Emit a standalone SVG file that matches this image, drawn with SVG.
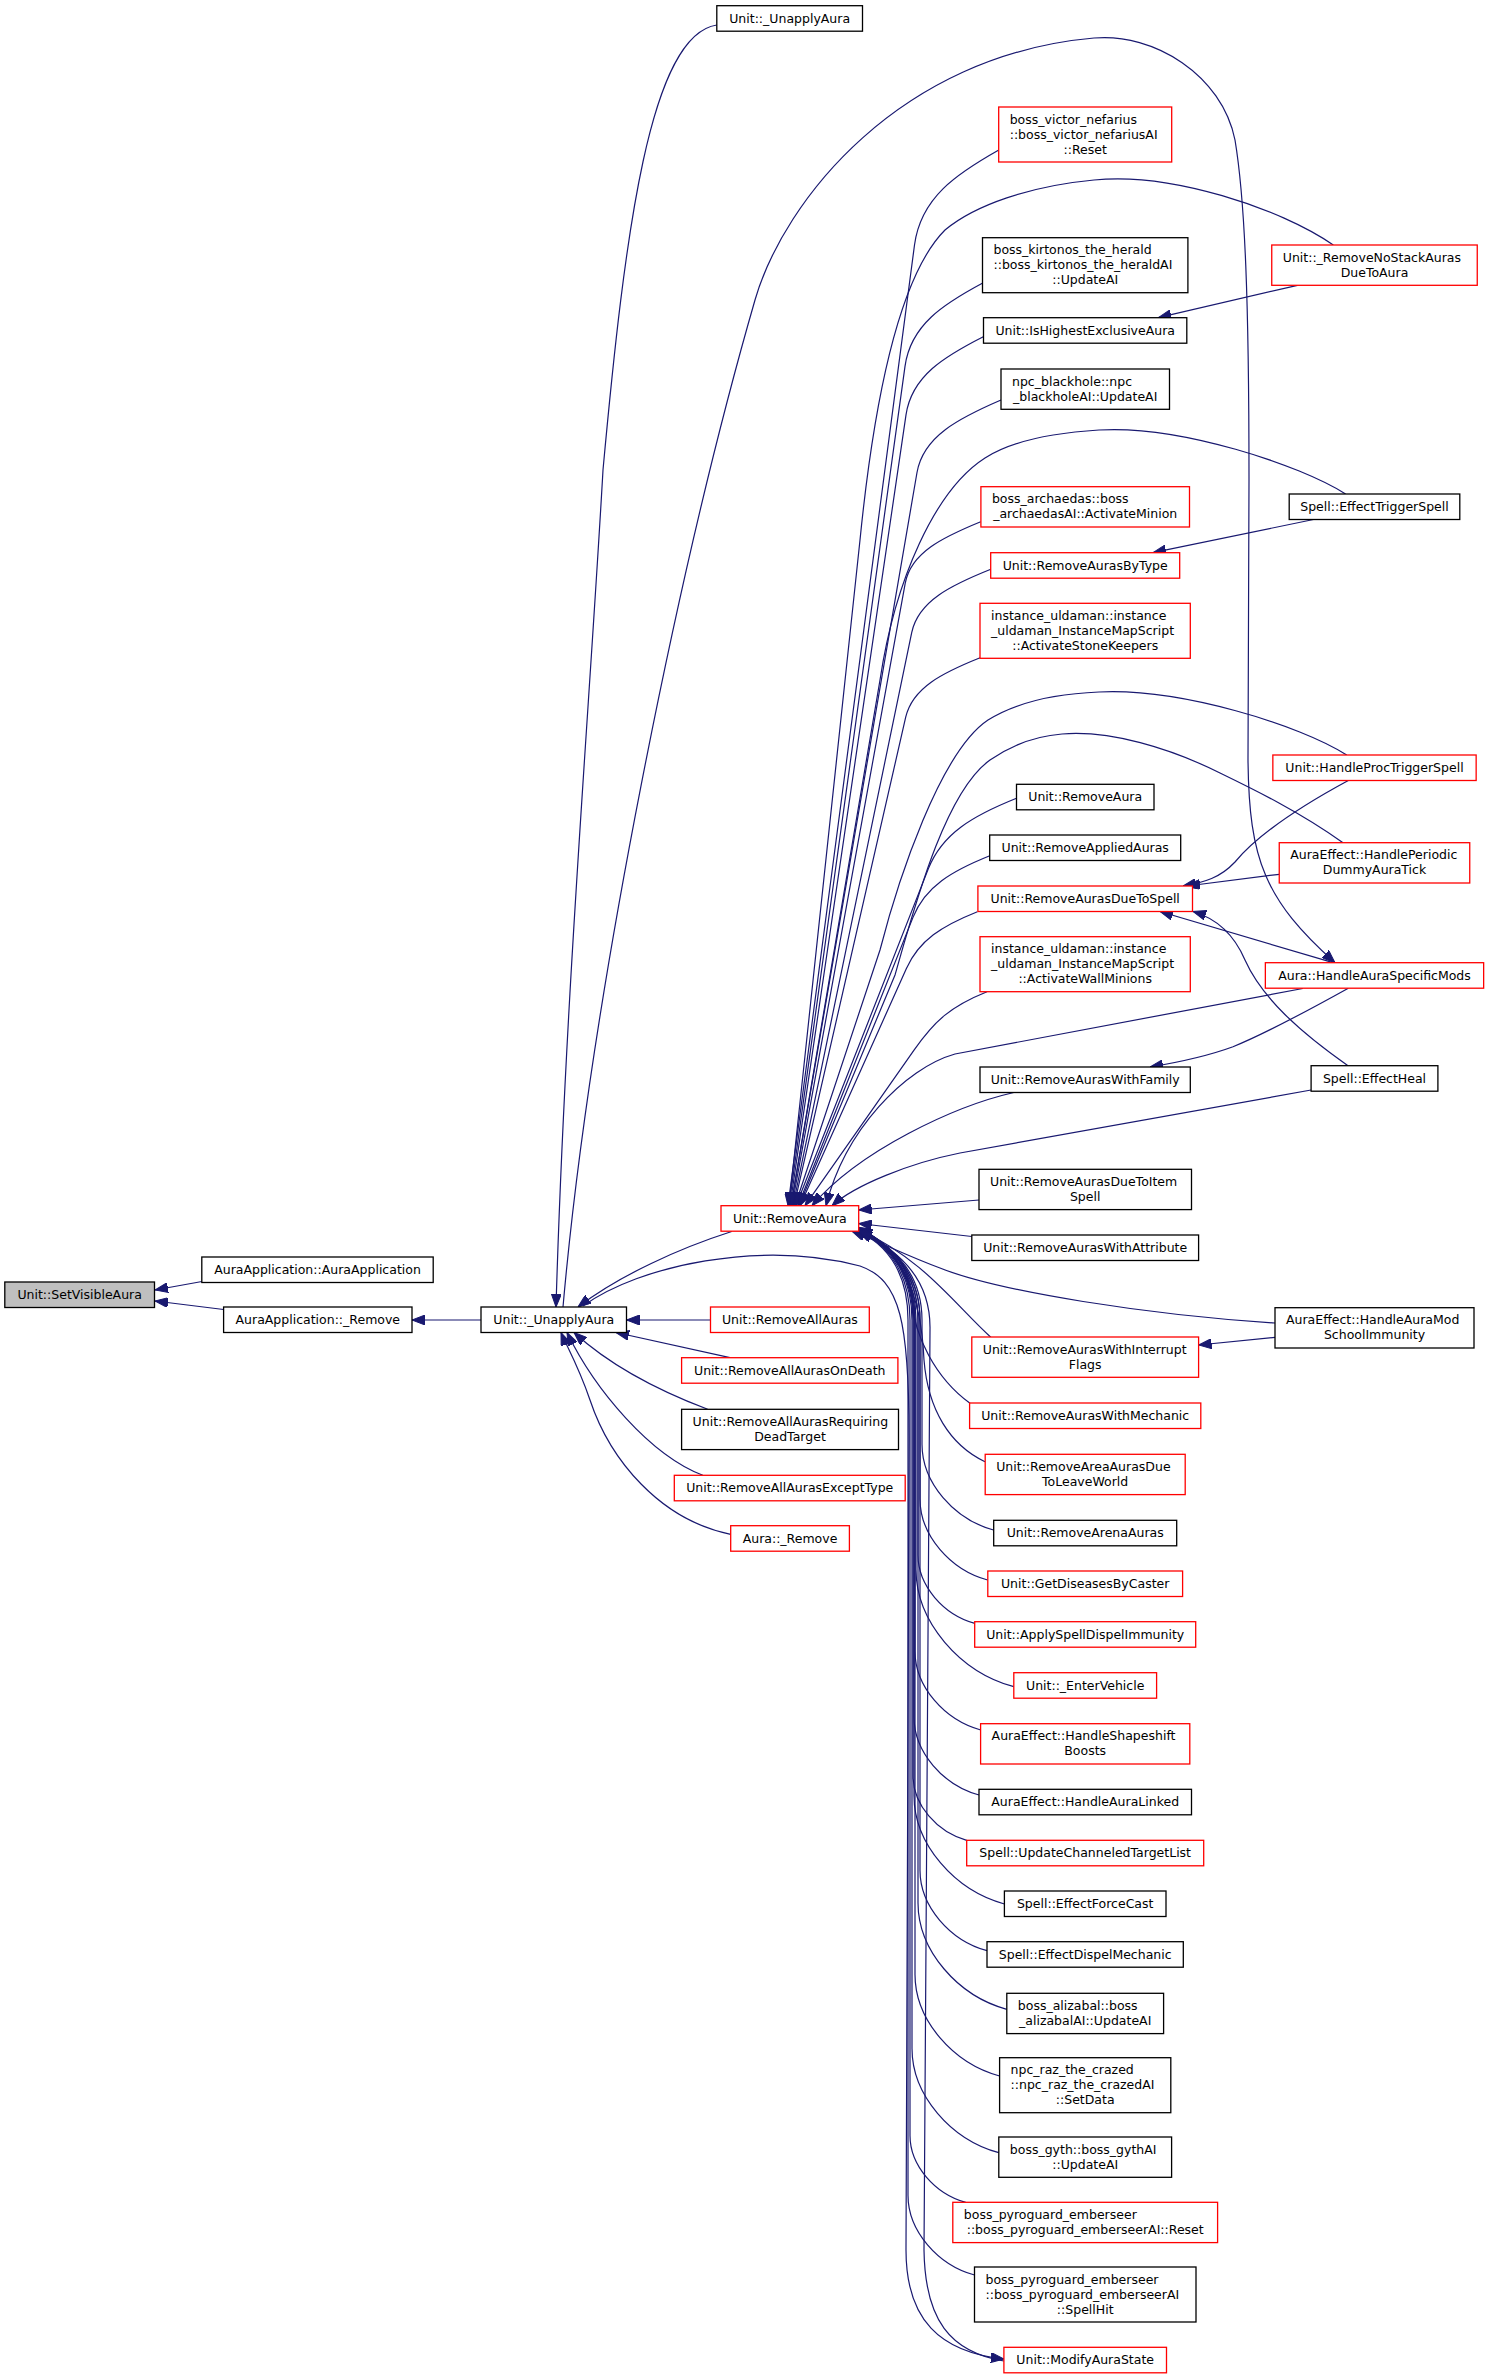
<svg xmlns="http://www.w3.org/2000/svg" width="1489" height="2379" viewBox="0 0 1489 2379">
<style>
.n rect{fill:#fff;stroke:#000;stroke-width:1.3}
.n.r rect{stroke:#ff0000}
.n.g rect{fill:#bfbfbf}
text{font-family:"DejaVu Sans","Liberation Sans",sans-serif;font-size:12.5px;fill:#000}
.m{text-anchor:middle}
.s{text-anchor:start}
#edges path{fill:none;stroke:#191970;stroke-width:1.2;marker-end:url(#ah)}
</style>
<defs>
<marker id="ah" viewBox="0 0 13 10" refX="13" refY="5" markerWidth="13" markerHeight="10" markerUnits="userSpaceOnUse" orient="auto">
<path d="M0,0 L13,5 L0,10 z" fill="#191970" stroke="#191970" stroke-width="1"/>
</marker>
</defs>
<rect width="1489" height="2379" fill="#fff"/>
<g id="edges">
<path d="M202,1281.5 L155,1290"/>
<path d="M223.6,1309.5 L155,1301"/>
<path d="M481,1320 L412,1320"/>
<path d="M710.5,1320 L626.5,1320"/>
<path d="M730,1357.7 L616,1332.5"/>
<path d="M707.7,1409.3 C670,1395 615,1370 574,1332.5"/>
<path d="M702.8,1475.3 C650,1455 595,1390 567,1332.5"/>
<path d="M730.7,1534.3 C660,1520 610,1460 590,1400 C578,1365 566,1345 561,1332.5"/>
<path d="M731.7,1231.5 C680,1248 620,1275 578,1307"/>
<path d="M716.8,25 C650,35 625,230 603,470 C590,700 565,1000 556,1307"/>
<path d="M563,1307 C590,1000 680,560 755,300 C784,200 900,55 1094,38 C1154,32.7 1222,75 1235,140 C1245,200 1249,300 1249,480 L1248,760 C1249,860 1265,900 1335,962.7"/>
<path d="M583,1306 C640,1265 760,1240 860,1266 C900,1280 910,1320 909,1450 L906,2250 C906,2320 940,2352 1003.9,2359"/>
<path d="M1003.9,2361 C950,2352 925,2320 924,2250 L930,1330 C931,1280 900,1250 858.7,1232"/>
<path d="M998.8,150 C956.6,173.8 920.8,197.5 914.5,245 L788,1205.7"/>
<path d="M982.3,283.3 C943.7,304 910.7,324.8 905,366.3 L789,1205.7"/>
<path d="M983.3,336.7 C944.7,356.3 911.7,375.8 906,414.9 L790,1205.7"/>
<path d="M1001,400 C959,418.1 923.2,436.3 917,472.5 L791,1205.7"/>
<path d="M980.7,521.7 C943,537.1 910.8,552.5 905.2,583.3 L792,1205.7"/>
<path d="M990.8,569.3 C951.3,585.1 918.3,601 911.7,632.6 L793,1205.7"/>
<path d="M980.1,657.7 C942.9,672.6 912.5,687.5 905.7,717.2 L794,1205.7"/>
<path d="M1016.5,798.3 C972.4,816 942.2,833.6 928.3,868.9 L796,1205.7"/>
<path d="M989.8,855.7 C951.5,871.1 925.3,886.4 913.1,917.1 L798,1205.7"/>
<path d="M977.4,911.7 C941.9,925.9 919.1,940.1 906.4,968.5 L800,1205.7"/>
<path d="M987,991.7 C950.6,1006.3 934.6,1020.8 914.2,1049.9 L805,1205.7"/>
<path d="M1013.8,1092.5 C955,1106 860,1150 812,1205.7"/>
<path d="M1333.3,245 C1280,208 1170,172 1094,180 C1030,186 975,205 945,230 C895,280 872,420 860,540 L789,1205.7"/>
<path d="M1345.6,494 C1300,465 1180,425 1099,430 C1050,433 1010,442 985,458 C935,490 895,580 880,680 L791,1205.7"/>
<path d="M1346.7,755 C1300,725 1180,688 1099,692 C1050,694 1012,705 988,720 C940,752 898,880 880,950 L795,1205.7"/>
<path d="M1343,842.7 C1300,812 1255,790 1220,773 C1170,748 1110,730 1062,734 C1035,736 1012,745 990,760 C945,792 915,905 895,975 L799,1205.7"/>
<path d="M1302.8,988.5 L955,1054 C905,1068 845,1130 826,1205.7"/>
<path d="M1311.1,1090 L960,1153 C910,1163 855,1185 832,1205.7"/>
<path d="M979,1200 L858.7,1210"/>
<path d="M971.8,1236.5 L858.7,1223.5"/>
<path d="M1275,1323 C1150,1315 1000,1292 940,1268 C905,1255 880,1242 852,1231.3"/>
<path d="M1275,1337.3 L1198.6,1345"/>
<path d="M1297.4,285.3 L1158.3,317.7"/>
<path d="M1313.5,519.5 L1152.9,552.7"/>
<path d="M1348.3,780.5 C1290,812 1255,838 1235,862 C1220,878 1205,882 1183,886"/>
<path d="M1279.3,874.3 L1187,886"/>
<path d="M1333,962.7 L1160,911.5"/>
<path d="M1348,1065.7 C1300,1032 1262,998 1245,960 C1233,932 1215,918 1193,911.5"/>
<path d="M1348.3,988.2 C1300,1015 1262,1035 1233,1046.7 C1205,1057 1180,1062 1150,1067"/>
<path d="M990.8,1337.2 C955,1305 925,1260 858.7,1229.5"/>
<path d="M970,1403.3 C935,1378 914,1335 912,1300 C910,1270 895,1245 858.7,1230.5"/>
<path d="M985,1461.7 C950,1445 928,1410 924,1360 C921,1290 900,1250 858.7,1231"/>
<path d="M993.5,1530 C954.2,1519.3 922,1482.8 922,1444.2 L922,1320 C922,1278 898,1248 858.7,1229"/>
<path d="M987.6,1580 C950.4,1569.9 920,1535.4 920,1498.9 L920,1320 C920,1278 898,1248 858.7,1228"/>
<path d="M974.8,1623.3 C943.6,1614.8 918,1585.8 918,1555.1 L918,1320 C918,1278 898,1248 858.7,1228.5"/>
<path d="M1013.8,1686.7 C960,1672 916,1622.1 916,1569.3 L916,1320 C916,1278 898,1248 858.7,1227.5"/>
<path d="M980.7,1730 C944.6,1720.1 915,1686.7 915,1651.2 L915,1320 C915,1278 896,1248 858.7,1228"/>
<path d="M979,1795 C943.3,1785.3 914,1752.1 914,1717 L914,1320 C914,1278 896,1248 858.7,1229"/>
<path d="M966.7,1840.3 C937.2,1832.2 913,1804.9 913,1775.9 L913,1320 C913,1278 895,1248 858.7,1230"/>
<path d="M1004.4,1904 C954.7,1890.4 914,1844.3 914,1795.5 L914,1320 C914,1278 895,1248 858.7,1229"/>
<path d="M987,1950.7 C950.2,1940.7 920,1906.5 920,1870.3 L920,1320 C920,1278 897,1248 858.7,1228"/>
<path d="M1006.8,2009.3 C958,1996 918,1950.7 918,1902.7 L918,1320 C918,1278 896,1248 858.7,1229"/>
<path d="M999.6,2076 C953.1,2063.3 915,2020.2 915,1974.5 L915,1320 C915,1278 895,1248 858.7,1230"/>
<path d="M998.8,2152.7 C951.1,2139.7 912,2095.4 912,2048.5 L912,1320 C912,1278 894,1248 858.7,1229"/>
<path d="M965.7,2202.3 C935.1,2193.9 910,2165.6 910,2135.5 L910,1320 C910,1278 893,1248 858.7,1230"/>
<path d="M974.5,2275 C937.9,2265 908,2231.1 908,2195.2 L908,1320 C908,1278 892,1248 858.7,1231"/>
</g>
<g id="n_setvisibleaura" class="n g"><rect x="4.8" y="1282" width="149.7" height="25.5"/><text class="m" x="79.65" y="1298.8">Unit::SetVisibleAura</text></g>
<g id="n_aa_ctor" class="n"><rect x="201.8" y="1257" width="231.4" height="25.5"/><text class="m" x="317.5" y="1273.8">AuraApplication::AuraApplication</text></g>
<g id="n_aa_remove" class="n"><rect x="223.6" y="1307" width="188.4" height="25.5"/><text class="m" x="317.8" y="1323.8">AuraApplication::_Remove</text></g>
<g id="n_unapply_main" class="n"><rect x="481" y="1307" width="145.5" height="25.5"/><text class="m" x="553.75" y="1323.8">Unit::_UnapplyAura</text></g>
<g id="n_unapply_top" class="n"><rect x="716.8" y="5.7" width="145.7" height="25.5"/><text class="m" x="789.65" y="22.5">Unit::_UnapplyAura</text></g>
<g id="n_removeaura_main" class="n r"><rect x="721" y="1205.7" width="137.7" height="25.5"/><text class="m" x="789.85" y="1222.5">Unit::RemoveAura</text></g>
<g id="n_removeallauras" class="n r"><rect x="710.5" y="1307" width="158.8" height="25.5"/><text class="m" x="789.9" y="1323.8">Unit::RemoveAllAuras</text></g>
<g id="n_ondeath" class="n r"><rect x="681.6" y="1357.7" width="216.3" height="25.5"/><text class="m" x="789.75" y="1374.5">Unit::RemoveAllAurasOnDeath</text></g>
<g id="n_deadtarget" class="n"><rect x="681.6" y="1409.3" width="216.9" height="40.3"/><text class="s" x="692.6" y="1425.9">Unit::RemoveAllAurasRequiring</text><text class="m" x="790" y="1440.9">DeadTarget</text></g>
<g id="n_excepttype" class="n r"><rect x="674.3" y="1475.3" width="230.9" height="25.5"/><text class="m" x="789.75" y="1492">Unit::RemoveAllAurasExceptType</text></g>
<g id="n_aura_remove" class="n r"><rect x="730.7" y="1525.7" width="118.7" height="25.5"/><text class="m" x="790" y="1542.5">Aura::_Remove</text></g>
<g id="n_victor" class="n r"><rect x="998.7" y="107" width="173" height="55"/><text class="s" x="1009.7" y="123.5">boss_victor_nefarius</text><text class="s" x="1009.7" y="138.5">::boss_victor_nefariusAI</text><text class="m" x="1085.2" y="153.5">::Reset</text></g>
<g id="n_kirtonos" class="n"><rect x="982.5" y="237.7" width="205.4" height="55"/><text class="s" x="993.5" y="254.2">boss_kirtonos_the_herald</text><text class="s" x="993.5" y="269.2">::boss_kirtonos_the_heraldAI</text><text class="m" x="1085.2" y="284.2">::UpdateAI</text></g>
<g id="n_ishighest" class="n"><rect x="983.5" y="317.7" width="203.3" height="25.5"/><text class="m" x="1085.2" y="334.5">Unit::IsHighestExclusiveAura</text></g>
<g id="n_blackhole" class="n"><rect x="1001" y="369" width="168.5" height="40.3"/><text class="s" x="1012" y="385.6">npc_blackhole::npc</text><text class="m" x="1085.2" y="400.6">_blackholeAI::UpdateAI</text></g>
<g id="n_archaedas" class="n r"><rect x="980.9" y="486.7" width="208.6" height="40.3"/><text class="s" x="991.9" y="503.3">boss_archaedas::boss</text><text class="m" x="1085.2" y="518.3">_archaedasAI::ActivateMinion</text></g>
<g id="n_bytype" class="n r"><rect x="990.7" y="552.7" width="189" height="25.5"/><text class="m" x="1085.2" y="569.5">Unit::RemoveAurasByType</text></g>
<g id="n_stonekeepers" class="n r"><rect x="980" y="603.3" width="210.3" height="55"/><text class="s" x="991" y="619.8">instance_uldaman::instance</text><text class="s" x="991" y="634.8">_uldaman_InstanceMapScript</text><text class="m" x="1085.2" y="649.8">::ActivateStoneKeepers</text></g>
<g id="n_removeaura_b" class="n"><rect x="1016.5" y="784.3" width="137.5" height="25.5"/><text class="m" x="1085.2" y="801">Unit::RemoveAura</text></g>
<g id="n_appliedauras" class="n"><rect x="989.7" y="835" width="191" height="25.5"/><text class="m" x="1085.2" y="851.8">Unit::RemoveAppliedAuras</text></g>
<g id="n_duetospell" class="n r"><rect x="977.9" y="886" width="214.6" height="25.5"/><text class="m" x="1085.2" y="902.8">Unit::RemoveAurasDueToSpell</text></g>
<g id="n_wallminions" class="n r"><rect x="980" y="936.7" width="210.3" height="55"/><text class="s" x="991" y="953.2">instance_uldaman::instance</text><text class="s" x="991" y="968.2">_uldaman_InstanceMapScript</text><text class="m" x="1085.2" y="983.2">::ActivateWallMinions</text></g>
<g id="n_withfamily" class="n"><rect x="980" y="1067" width="210.3" height="25.5"/><text class="m" x="1085.2" y="1083.8">Unit::RemoveAurasWithFamily</text></g>
<g id="n_duetoitem" class="n"><rect x="979" y="1169.3" width="212.5" height="40.3"/><text class="s" x="990" y="1185.9">Unit::RemoveAurasDueToItem</text><text class="m" x="1085.2" y="1200.9">Spell</text></g>
<g id="n_withattribute" class="n"><rect x="971.8" y="1235" width="226.8" height="25.5"/><text class="m" x="1085.2" y="1251.8">Unit::RemoveAurasWithAttribute</text></g>
<g id="n_interruptflags" class="n r"><rect x="971.8" y="1337" width="226.8" height="40.3"/><text class="s" x="982.8" y="1353.6">Unit::RemoveAurasWithInterrupt</text><text class="m" x="1085.2" y="1368.6">Flags</text></g>
<g id="n_withmechanic" class="n r"><rect x="969.6" y="1403" width="231.2" height="25.5"/><text class="m" x="1085.2" y="1419.8">Unit::RemoveAurasWithMechanic</text></g>
<g id="n_areaauras" class="n r"><rect x="985.2" y="1454.3" width="200" height="40.3"/><text class="s" x="996.2" y="1470.9">Unit::RemoveAreaAurasDue</text><text class="m" x="1085.2" y="1485.9">ToLeaveWorld</text></g>
<g id="n_arenaauras" class="n"><rect x="993.7" y="1520.3" width="183" height="25.5"/><text class="m" x="1085.2" y="1537">Unit::RemoveArenaAuras</text></g>
<g id="n_diseases" class="n r"><rect x="987.8" y="1571" width="194.8" height="25.5"/><text class="m" x="1085.2" y="1587.8">Unit::GetDiseasesByCaster</text></g>
<g id="n_dispelimmunity" class="n r"><rect x="974.7" y="1621.7" width="221" height="25.5"/><text class="m" x="1085.2" y="1638.5">Unit::ApplySpellDispelImmunity</text></g>
<g id="n_entervehicle" class="n r"><rect x="1013.8" y="1672.7" width="142.8" height="25.5"/><text class="m" x="1085.2" y="1689.5">Unit::_EnterVehicle</text></g>
<g id="n_shapeshift" class="n r"><rect x="980.6" y="1723.7" width="209.2" height="40.3"/><text class="s" x="991.6" y="1740.3">AuraEffect::HandleShapeshift</text><text class="m" x="1085.2" y="1755.3">Boosts</text></g>
<g id="n_auralinked" class="n"><rect x="979" y="1789.3" width="212.5" height="25.5"/><text class="m" x="1085.2" y="1806">AuraEffect::HandleAuraLinked</text></g>
<g id="n_channeled" class="n r"><rect x="966.7" y="1840.3" width="237" height="25.5"/><text class="m" x="1085.2" y="1857">Spell::UpdateChanneledTargetList</text></g>
<g id="n_forcecast" class="n"><rect x="1004.4" y="1891" width="161.6" height="25.5"/><text class="m" x="1085.2" y="1907.8">Spell::EffectForceCast</text></g>
<g id="n_dispelmechanic" class="n"><rect x="987" y="1941.7" width="196.3" height="25.5"/><text class="m" x="1085.2" y="1958.5">Spell::EffectDispelMechanic</text></g>
<g id="n_alizabal" class="n"><rect x="1006.8" y="1993.3" width="156.8" height="40.3"/><text class="s" x="1017.8" y="2009.9">boss_alizabal::boss</text><text class="m" x="1085.2" y="2024.9">_alizabalAI::UpdateAI</text></g>
<g id="n_raz" class="n"><rect x="999.6" y="2057.7" width="171.2" height="55"/><text class="s" x="1010.6" y="2074.2">npc_raz_the_crazed</text><text class="s" x="1010.6" y="2089.2">::npc_raz_the_crazedAI</text><text class="m" x="1085.2" y="2104.2">::SetData</text></g>
<g id="n_gyth" class="n"><rect x="998.8" y="2137" width="172.8" height="40.3"/><text class="s" x="1009.8" y="2153.6">boss_gyth::boss_gythAI</text><text class="m" x="1085.2" y="2168.6">::UpdateAI</text></g>
<g id="n_pyro_reset" class="n r"><rect x="952.8" y="2202.3" width="264.8" height="40.3"/><text class="s" x="963.8" y="2218.9">boss_pyroguard_emberseer</text><text class="m" x="1085.2" y="2233.9">::boss_pyroguard_emberseerAI::Reset</text></g>
<g id="n_pyro_spellhit" class="n"><rect x="974.5" y="2267" width="221.5" height="55"/><text class="s" x="985.5" y="2283.5">boss_pyroguard_emberseer</text><text class="s" x="985.5" y="2298.5">::boss_pyroguard_emberseerAI</text><text class="m" x="1085.2" y="2313.5">::SpellHit</text></g>
<g id="n_modifyaurastate" class="n r"><rect x="1003.9" y="2347.3" width="162.6" height="25.5"/><text class="m" x="1085.2" y="2364">Unit::ModifyAuraState</text></g>
<g id="n_nostack" class="n r"><rect x="1271.75" y="245" width="205.5" height="40.3"/><text class="s" x="1282.75" y="261.6">Unit::_RemoveNoStackAuras</text><text class="m" x="1374.5" y="276.6">DueToAura</text></g>
<g id="n_effecttrigger" class="n"><rect x="1289.2" y="494" width="170.6" height="25.5"/><text class="m" x="1374.5" y="510.8">Spell::EffectTriggerSpell</text></g>
<g id="n_proctrigger" class="n r"><rect x="1272.85" y="755" width="203.3" height="25.5"/><text class="m" x="1374.5" y="771.8">Unit::HandleProcTriggerSpell</text></g>
<g id="n_periodicdummy" class="n r"><rect x="1279.25" y="842.7" width="190.5" height="40.3"/><text class="s" x="1290.25" y="859.3">AuraEffect::HandlePeriodic</text><text class="m" x="1374.5" y="874.3">DummyAuraTick</text></g>
<g id="n_specificmods" class="n r"><rect x="1265.35" y="962.7" width="218.3" height="25.5"/><text class="m" x="1374.5" y="979.5">Aura::HandleAuraSpecificMods</text></g>
<g id="n_effectheal" class="n"><rect x="1311.1" y="1065.7" width="126.8" height="25.5"/><text class="m" x="1374.5" y="1082.5">Spell::EffectHeal</text></g>
<g id="n_schoolimmunity" class="n"><rect x="1275" y="1307.7" width="199" height="40.3"/><text class="s" x="1286" y="1324.3">AuraEffect::HandleAuraMod</text><text class="m" x="1374.5" y="1339.3">SchoolImmunity</text></g>
</svg>
